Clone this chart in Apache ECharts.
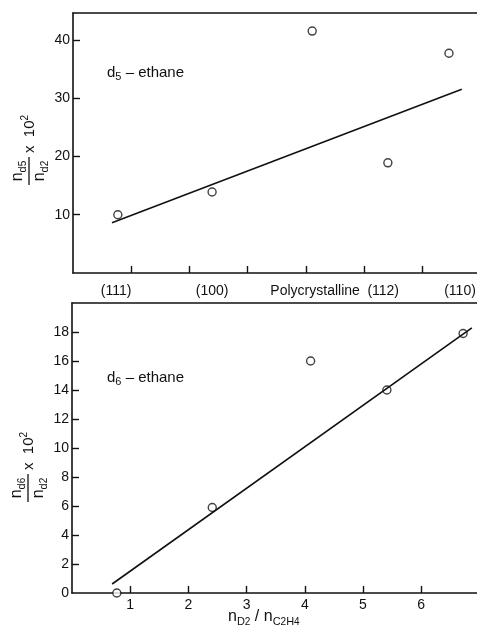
<!DOCTYPE html>
<html>
<head>
<meta charset="utf-8">
<script src="https://cdn.jsdelivr.net/npm/echarts@6/dist/echarts.min.js"></script>
<style>
  html, body { margin: 0; padding: 0; background: #fff; }
  #c { width: 477px; height: 630px; }
</style>
</head>
<body>
<div id="c"></div>
<script>
// Upper panel: d5-ethane yield for each crystal face
const faceLabels = ['(111)', '(100)', 'Polycrystalline', '(112)', '(110)'];
const faceLabelX = [0.74, 2.39, 4.16, 5.33, 6.65];
const d5X = [0.77, 2.39, 4.11, 5.41, 6.46];
const d5Y = [10, 13.9, 41.5, 18.9, 37.7];
const d5FitX = [0.67, 6.68];
const d5FitY = [8.6, 31.5];
const d5YTicks = [10, 20, 30, 40];
const topXTicks = [1, 2, 3, 4, 5, 6];

// Lower panel: d6-ethane yield against the D2 / C2H4 ratio
const ratioX = [0.77, 2.41, 4.1, 5.41, 6.72];
const d6Y = [0, 5.9, 16, 14, 17.9];
const d6FitX = [0.69, 6.87];
const d6FitY = [0.62, 18.28];
const ratioTicks = [1, 2, 3, 4, 5, 6];
const d6YTicks = [0, 2, 4, 6, 8, 10, 12, 14, 16, 18];

const FONT = 'Liberation Sans';
const INK = '#111';

const zip = (xs, ys) => xs.map((x, i) => [x, ys[i]]);

const chart = echarts.init(document.getElementById('c'), null, { renderer: 'canvas' });

function bottomAxis(grid, max, labelsShown) {
  return {
    type: 'value', gridIndex: grid, position: 'bottom', min: 0, max: max,
    splitLine: { show: false },
    axisLine: { show: true, onZero: false, lineStyle: { color: INK, width: 1.6 } },
    axisTick: { show: true, inside: true, length: 7, customValues: grid === 0 ? topXTicks : ratioTicks,
                lineStyle: { color: INK, width: 1.4 } },
    axisLabel: { show: labelsShown, customValues: ratioTicks, margin: 5, color: INK,
                 fontFamily: FONT, fontSize: 14 }
  };
}
function topBorder(grid) {
  return {
    type: 'value', gridIndex: grid, position: 'top', min: 0, max: 1,
    splitLine: { show: false }, axisTick: { show: false }, axisLabel: { show: false },
    axisLine: { show: true, onZero: false, lineStyle: { color: INK, width: 1.6 } }
  };
}
function leftAxis(grid, max, ticks) {
  return {
    type: 'value', gridIndex: grid, min: 0, max: max,
    splitLine: { show: false },
    axisLine: { show: true, onZero: false, lineStyle: { color: INK, width: 1.6 } },
    axisTick: { show: true, inside: true, length: 7, customValues: ticks.filter(v => v > 0),
                lineStyle: { color: INK, width: 1.4 } },
    axisLabel: { show: true, customValues: ticks, margin: 3, color: INK,
                 fontFamily: FONT, fontSize: 14 }
  };
}

const circleStyle = { color: '#fff', borderColor: INK, borderWidth: 1.4 };
const fitStyle = { color: INK, width: 1.6 };

const subRich = {
  s: { fontFamily: FONT, fontSize: 11, lineHeight: 11, verticalAlign: 'bottom', fill: INK },
  ss: { fontFamily: FONT, fontSize: 10, lineHeight: 10, verticalAlign: 'bottom', fill: INK, padding: [4, 0, 0, 0] },
  sup: { fontFamily: FONT, fontSize: 10, lineHeight: 10, verticalAlign: 'top', fill: INK }
};

// Rotated y-axis title: n_dk / n_d2 x 10^2, reading bottom to top
function ratioTitle(k, cx, cy) {
  const base = { fontFamily: FONT, fontSize: 16, lineHeight: 20, fill: INK, rich: subRich };
  return {
    type: 'group', x: cx, y: cy, rotation: Math.PI / 2,
    children: [
      { type: 'text', x: -20, y: -1,
        style: Object.assign({}, base, { text: 'n{s|d}{ss|' + k + '}', align: 'center', verticalAlign: 'bottom' }) },
      { type: 'line', shape: { x1: -34, y1: 0, x2: -6, y2: 0 }, style: { stroke: INK, lineWidth: 1.3 } },
      { type: 'text', x: -20, y: 1,
        style: Object.assign({}, base, { text: 'n{s|d}{ss|2}', align: 'center', verticalAlign: 'top' }) },
      { type: 'text', x: -2, y: 1,
        style: Object.assign({}, base, { text: 'x  10{sup|2}', fontSize: 15, align: 'left', verticalAlign: 'middle' }) }
    ]
  };
}

function panelTag(k, x, y) {
  return {
    type: 'text', x: x, y: y,
    style: { text: 'd{s|' + k + '} – ethane', fontFamily: FONT, fontSize: 15, lineHeight: 18, fill: INK,
             align: 'left', verticalAlign: 'middle', rich: subRich }
  };
}

chart.setOption({
  animation: false,
  backgroundColor: '#fff',
  grid: [
    { left: 73, top: 13, width: 404, height: 260 },
    { left: 72, top: 303, width: 405, height: 290 }
  ],
  xAxis: [
    bottomAxis(0, 404 / 58.2, false),
    bottomAxis(1, 405 / 58.2, true),
    topBorder(0),
    topBorder(1)
  ],
  yAxis: [
    leftAxis(0, 44.6, d5YTicks),
    leftAxis(1, 20, d6YTicks)
  ],
  series: [
    { type: 'line', xAxisIndex: 0, yAxisIndex: 0, data: zip(d5FitX, d5FitY), symbol: 'none',
      lineStyle: fitStyle, silent: true },
    { type: 'scatter', xAxisIndex: 0, yAxisIndex: 0, data: zip(d5X, d5Y), symbol: 'circle',
      symbolSize: 8, itemStyle: circleStyle, clip: false },
    { type: 'line', xAxisIndex: 1, yAxisIndex: 1, data: zip(d6FitX, d6FitY), symbol: 'none',
      lineStyle: fitStyle, silent: true },
    { type: 'scatter', xAxisIndex: 1, yAxisIndex: 1, data: zip(ratioX, d6Y), symbol: 'circle',
      symbolSize: 8, itemStyle: circleStyle, clip: false }
  ]
});

// Face names under the upper panel, placed through the upper x scale
const faceTexts = faceLabels.map((name, i) => ({
  type: 'text',
  x: chart.convertToPixel({ xAxisIndex: 0 }, faceLabelX[i]),
  y: 291,
  style: { text: name, fontFamily: FONT, fontSize: 14, fill: INK, align: 'center', verticalAlign: 'middle' }
}));

chart.setOption({
  graphic: [
    ...faceTexts,
    panelTag('5', 107, 73),
    panelTag('6', 107, 378),
    ratioTitle('5', 29, 151),
    ratioTitle('6', 28, 468),
    {
      type: 'text', x: 228, y: 617,
      style: { text: 'n{s|D}{ss|2} / n{s|C}{ss|2}{s|H}{ss|4}', fontFamily: FONT, fontSize: 16, lineHeight: 20,
               fill: INK, align: 'left', verticalAlign: 'middle', rich: subRich }
    }
  ]
});
</script>
</body>
</html>
